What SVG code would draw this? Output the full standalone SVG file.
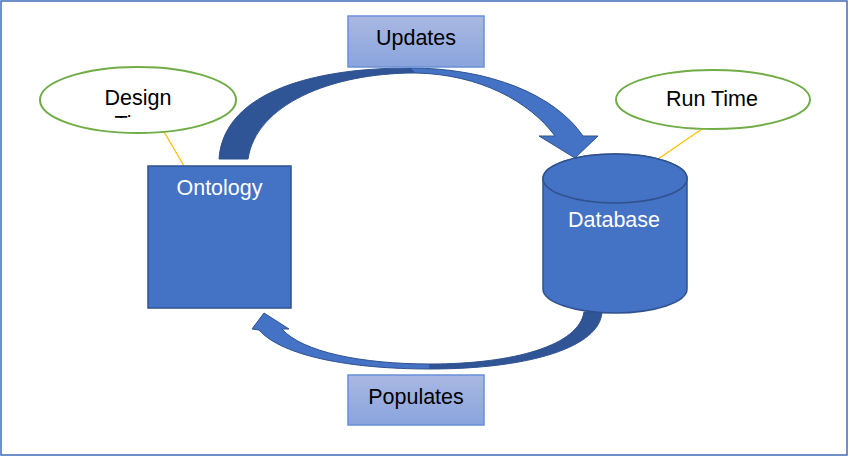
<svg xmlns="http://www.w3.org/2000/svg" width="850" height="457" viewBox="0 0 850 457">
<defs>
<linearGradient id="lbl" x1="0" y1="0" x2="0" y2="1">
<stop offset="0" stop-color="#a9b8e2"/>
<stop offset="1" stop-color="#8aa4dc"/>
</linearGradient>
<clipPath id="dtclip"><rect x="40" y="60" width="200" height="58"/></clipPath>
</defs>
<style>
text{font-family:"Liberation Sans",Arial,sans-serif;font-size:21.5px;text-anchor:middle}
.dark{fill:#000}
.white{fill:#fff}
.label{fill:url(#lbl);stroke:#6a90d8;stroke-width:1.5}
.bubble{fill:#fff;stroke:#70ad47;stroke-width:2}
.shape{fill:#4472c4;stroke:#2f528f;stroke-width:1.5}
.arrL{fill:#4472c4;stroke:#2f528f;stroke-width:1}
.arrD{fill:#2f5597;stroke:#2f528f;stroke-width:1}
.callout{stroke:#ffc000;stroke-width:1.3;fill:none}
</style>
<rect x="1" y="1" width="846" height="454" fill="#fff" stroke="#3f6bb5" stroke-width="1.5"/>
<g id="connectors">
<path class="arrL" d="M410,68 C490,68 555,95 583,136 L598,136 L575,158 L539,136 L555,136 C530,102 480,74 415,73 Z"/>
<path class="arrD" d="M219,159 C223,98 300,68 410,68 L415,73 C330,73 256,105 248,159 Z"/>
<path class="arrL" d="M430,369 C350,369 282,356 259,330 L252,329 L264,313 L289,329 L282,329 C302,352 362,364 430,364 Z"/>
<path class="arrD" d="M602,312 C600,347 530,369 430,369 L430,364 C515,364 579,345 584,312 Z"/>
<line class="callout" x1="163" y1="130" x2="184" y2="166"/>
<line class="callout" x1="702" y1="129" x2="658" y2="159"/>
</g>
<g id="updates">
<rect class="label" x="348" y="16" width="136" height="51"/>
<text class="dark" x="416" y="45">Updates</text>
</g>
<g id="populates">
<rect class="label" x="348" y="375" width="136" height="50"/>
<text class="dark" x="416" y="404">Populates</text>
</g>
<g id="design-time">
<ellipse class="bubble" cx="138" cy="100" rx="98" ry="33"/>
<text class="dark" x="138" y="105">Design</text>
<text class="dark" x="138" y="131" clip-path="url(#dtclip)">Time</text>
</g>
<g id="run-time">
<ellipse class="bubble" cx="713" cy="99.5" rx="97" ry="29.5"/>
<text class="dark" x="712" y="106">Run Time</text>
</g>
<g id="ontology">
<rect class="shape" x="148" y="166" width="143" height="142"/>
<text class="white" x="219.5" y="195">Ontology</text>
</g>
<g id="database">
<path class="shape" d="M543,178.5 L543,289 A72,24 0 0 0 687,289 L687,178.5 A72,24.5 0 0 0 543,178.5 Z"/>
<ellipse class="shape" cx="615" cy="178.5" rx="72" ry="24.5"/>
<text class="white" x="614" y="227">Database</text>
</g>
</svg>
